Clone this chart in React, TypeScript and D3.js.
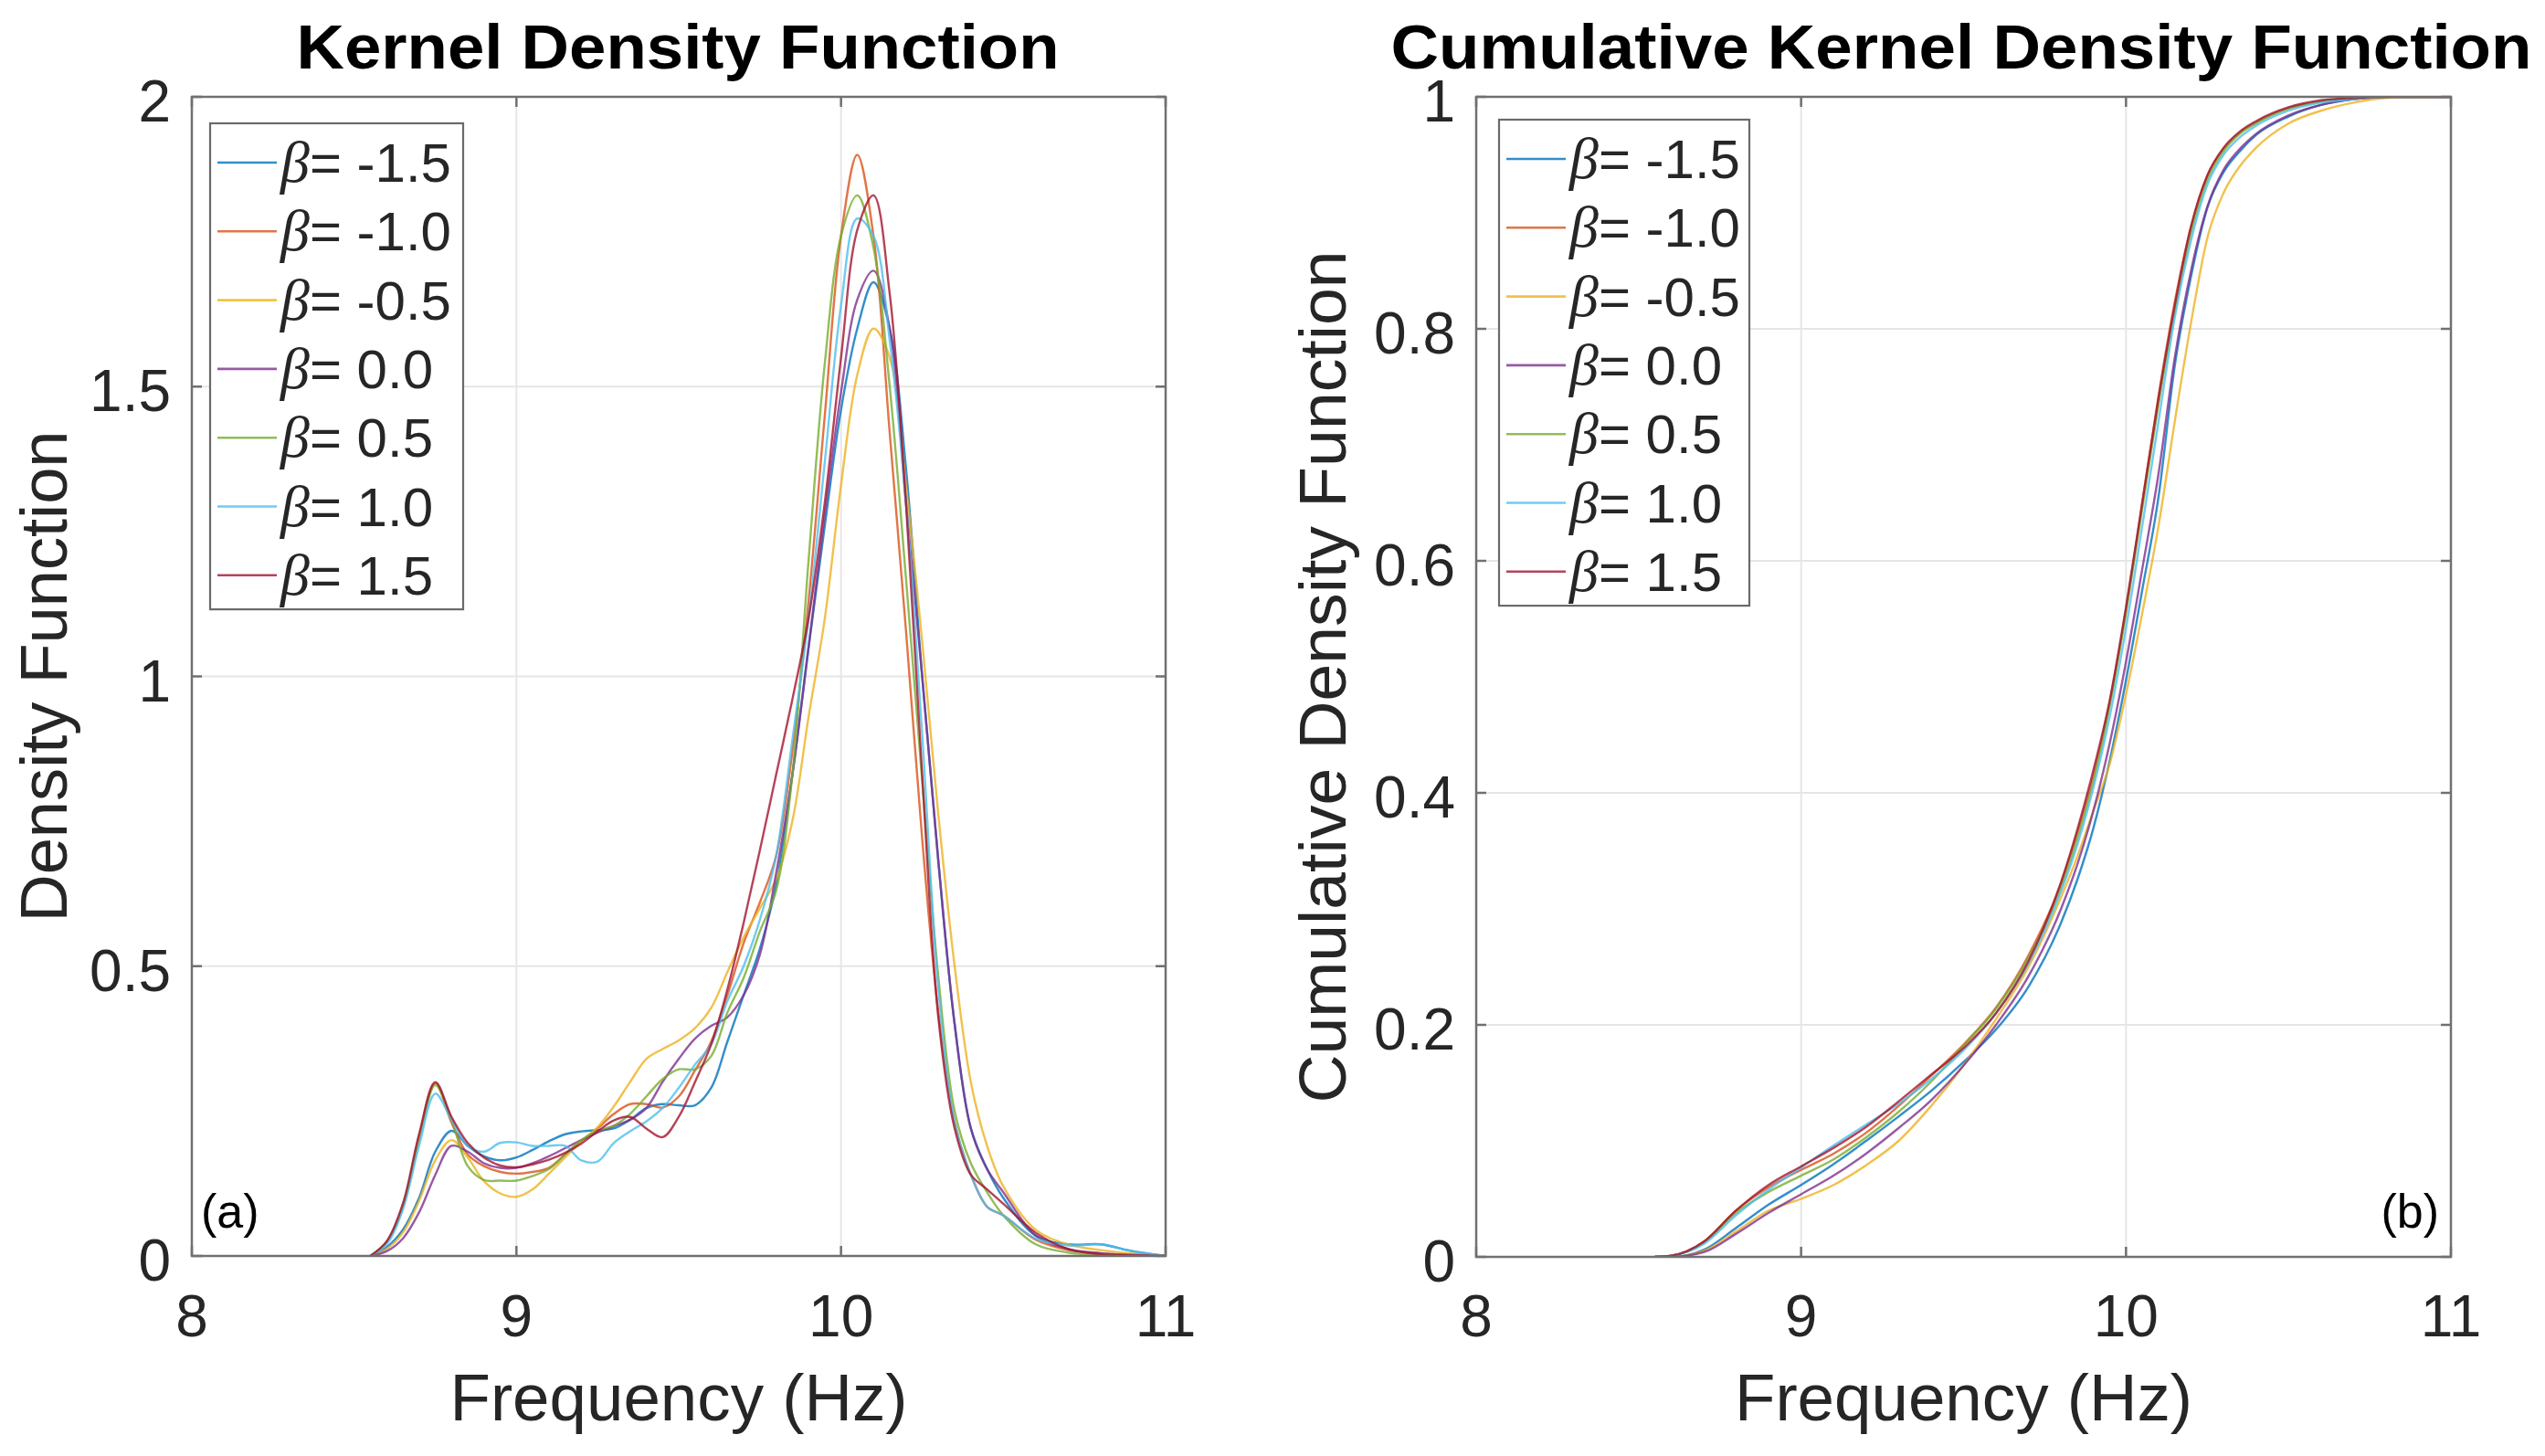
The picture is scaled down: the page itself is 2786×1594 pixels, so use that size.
import { useEffect } from "react";
import { curveCatmullRom, curveMonotoneX, line, scaleLinear } from "d3";

const betaLabels = ["-1.5", "-1.0", "-0.5", "0.0", "0.5", "1.0", "1.5"];
const seriesColors = ["#0072BD", "#D95319", "#EDB120", "#7E2F8E", "#77AC30", "#4DBEEE", "#A2142F"];

const freqTicks = [8, 9, 10, 11];
const freqTickLabels = ["8", "9", "10", "11"];
const densityTicks = [0, 0.5, 1, 1.5, 2];
const densityTickLabels = ["0", "0.5", "1", "1.5", "2"];
const cumulativeTicks = [0, 0.2, 0.4, 0.6, 0.8, 1];
const cumulativeTickLabels = ["0", "0.2", "0.4", "0.6", "0.8", "1"];

// kernel density, sampled on a shared frequency grid (Hz)
const kdeFrequency = [
  8.55, 8.6, 8.65, 8.7, 8.75, 8.8, 8.85, 8.9, 8.95, 9.0, 9.05, 9.1, 9.15, 9.2, 9.25, 9.3, 9.35, 9.4,
  9.45, 9.5, 9.55, 9.6, 9.65, 9.7, 9.75, 9.8, 9.85, 9.9, 9.95, 10.0, 10.05, 10.1, 10.15, 10.2, 10.25,
  10.3, 10.35, 10.4, 10.45, 10.5, 10.6, 10.7, 10.8, 10.9, 11.0,
];
const kdeBetaM15 = [
  0, 0.015, 0.045, 0.1, 0.18, 0.216, 0.19, 0.172, 0.165, 0.17, 0.183, 0.198, 0.21, 0.215, 0.217, 0.22,
  0.235, 0.255, 0.262, 0.26, 0.26, 0.29, 0.37, 0.45, 0.53, 0.64, 0.83, 1.05, 1.26, 1.46, 1.6, 1.68, 1.6,
  1.36, 1.0, 0.68, 0.4, 0.22, 0.15, 0.1, 0.035, 0.02, 0.02, 0.008, 0,
];
const kdeBetaM10 = [
  0, 0.024, 0.085, 0.205, 0.298, 0.23, 0.175, 0.155, 0.145, 0.142, 0.145, 0.152, 0.175, 0.198, 0.22,
  0.245, 0.262, 0.262, 0.256, 0.275, 0.32, 0.37, 0.45, 0.54, 0.61, 0.69, 0.87, 1.13, 1.45, 1.76, 1.9,
  1.76, 1.42, 1.08, 0.72, 0.42, 0.23, 0.14, 0.085, 0.07, 0.028, 0.01, 0.004, 0.001, 0,
];
const kdeBetaM05 = [
  0, 0.012, 0.04, 0.095, 0.165, 0.2, 0.17, 0.129, 0.108, 0.102, 0.115, 0.142, 0.17, 0.198, 0.222, 0.258,
  0.3, 0.34, 0.357, 0.372, 0.393, 0.428, 0.49, 0.55, 0.6, 0.65, 0.75, 0.93, 1.1, 1.33, 1.52, 1.6, 1.55,
  1.33, 1.06, 0.76, 0.5, 0.3, 0.19, 0.12, 0.045, 0.02, 0.01, 0.004, 0,
];
const kdeBeta00 = [
  0, 0.008, 0.03, 0.075, 0.14, 0.19, 0.18, 0.16, 0.152, 0.152, 0.16, 0.172, 0.186, 0.2, 0.213, 0.224,
  0.235, 0.255, 0.3, 0.34, 0.375, 0.397, 0.412, 0.45, 0.52, 0.66, 0.83, 1.05, 1.28, 1.49, 1.65, 1.7, 1.6,
  1.3, 1.0, 0.68, 0.4, 0.22, 0.15, 0.11, 0.035, 0.012, 0.005, 0.002, 0,
];
const kdeBeta05 = [
  0, 0.024, 0.085, 0.2, 0.295, 0.235, 0.155, 0.131, 0.13, 0.13, 0.138, 0.15, 0.175, 0.2, 0.216, 0.225,
  0.245, 0.275, 0.305, 0.322, 0.322, 0.345, 0.42, 0.48, 0.56, 0.63, 0.83, 1.2, 1.54, 1.76, 1.83, 1.74,
  1.5, 1.17, 0.82, 0.48, 0.25, 0.16, 0.11, 0.07, 0.02, 0.006, 0.002, 0, 0,
];
const kdeBeta10 = [
  0, 0.02, 0.08, 0.19, 0.28, 0.235, 0.19, 0.18, 0.195, 0.196, 0.19, 0.19, 0.19, 0.165, 0.163, 0.195,
  0.215, 0.232, 0.255, 0.29, 0.33, 0.365, 0.44, 0.5, 0.58, 0.69, 0.89, 1.1, 1.37, 1.64, 1.79, 1.76, 1.58,
  1.3, 0.9, 0.46, 0.23, 0.14, 0.085, 0.07, 0.03, 0.018, 0.02, 0.008, 0,
];
const kdeBeta15 = [
  0, 0.025, 0.09, 0.21, 0.3, 0.24, 0.195, 0.17, 0.156, 0.153, 0.158, 0.166, 0.178, 0.194, 0.215, 0.234,
  0.24, 0.22, 0.205, 0.24, 0.3, 0.365, 0.46, 0.575, 0.7, 0.83, 0.96, 1.1, 1.3, 1.55, 1.77, 1.83, 1.66,
  1.3, 0.83, 0.41, 0.22, 0.14, 0.115, 0.09, 0.04, 0.012, 0.003, 0.001, 0,
];

// cumulative kernel density
const cdfFrequency = [
  8.55, 8.6, 8.7, 8.8, 8.9, 9.0, 9.1, 9.2, 9.3, 9.4, 9.5, 9.6, 9.7, 9.8, 9.85, 9.9, 9.95, 10.0, 10.05,
  10.1, 10.15, 10.2, 10.25, 10.3, 10.35, 10.4, 10.5, 10.6, 10.7, 10.8, 10.9, 11.0,
];
const cdfBetaM15 = [
  0, 0, 0.006, 0.025, 0.045, 0.062, 0.08, 0.1, 0.121, 0.143, 0.168, 0.196, 0.233, 0.288, 0.325, 0.37,
  0.428, 0.497, 0.575, 0.655, 0.768, 0.845, 0.904, 0.935, 0.953, 0.967, 0.983, 0.993, 0.998, 1, 1, 1,
];
const cdfBetaM10 = [
  0, 0.001, 0.013, 0.04, 0.06, 0.075, 0.089, 0.107, 0.13, 0.156, 0.183, 0.215, 0.26, 0.322, 0.365, 0.415,
  0.478, 0.558, 0.65, 0.742, 0.823, 0.888, 0.932, 0.955, 0.969, 0.978, 0.99, 0.996, 0.999, 1, 1, 1,
];
const cdfBetaM05 = [
  0, 0, 0.005, 0.022, 0.04, 0.05, 0.062, 0.079, 0.1, 0.13, 0.165, 0.205, 0.25, 0.31, 0.345, 0.385, 0.425,
  0.485, 0.555, 0.63, 0.72, 0.805, 0.878, 0.917, 0.94, 0.956, 0.977, 0.988, 0.995, 0.999, 1, 1,
];
const cdfBeta00 = [
  0, 0, 0.004, 0.02, 0.038, 0.054, 0.07, 0.089, 0.111, 0.135, 0.165, 0.2, 0.242, 0.3, 0.338, 0.385, 0.443,
  0.513, 0.593, 0.675, 0.775, 0.85, 0.905, 0.937, 0.955, 0.968, 0.984, 0.993, 0.998, 1, 1, 1,
];
const cdfBeta05 = [
  0, 0.001, 0.012, 0.038, 0.056, 0.07, 0.084, 0.103, 0.125, 0.151, 0.182, 0.214, 0.258, 0.318, 0.36, 0.41,
  0.475, 0.555, 0.645, 0.735, 0.815, 0.882, 0.928, 0.953, 0.968, 0.977, 0.99, 0.996, 0.999, 1, 1, 1,
];
const cdfBeta10 = [
  0, 0.001, 0.011, 0.036, 0.058, 0.077, 0.096, 0.114, 0.132, 0.153, 0.178, 0.21, 0.253, 0.315, 0.355,
  0.405, 0.466, 0.542, 0.63, 0.72, 0.81, 0.876, 0.924, 0.95, 0.965, 0.975, 0.988, 0.995, 0.998, 1, 1, 1,
];
const cdfBeta15 = [
  0, 0.001, 0.013, 0.04, 0.062, 0.078, 0.094, 0.112, 0.134, 0.157, 0.18, 0.21, 0.255, 0.323, 0.368, 0.42,
  0.48, 0.56, 0.65, 0.74, 0.82, 0.888, 0.932, 0.956, 0.97, 0.979, 0.991, 0.997, 0.999, 1, 1, 1,
];

const kdeSeries = [kdeBetaM15, kdeBetaM10, kdeBetaM05, kdeBeta00, kdeBeta05, kdeBeta10, kdeBeta15];
const cdfSeries = [cdfBetaM15, cdfBetaM10, cdfBetaM05, cdfBeta00, cdfBeta05, cdfBeta10, cdfBeta15];

const sans = "'Liberation Sans', Arial, Helvetica, sans-serif";
const axisGray = "#707070";

type PanelProps = {
  id: string;
  left: number;
  right: number;
  top: number;
  bottom: number;
  yMax: number;
  yTicks: number[];
  yTickLabels: string[];
  frequency: number[];
  series: number[][];
  smooth: "catmull" | "monotone";
  title: string;
  titleX: number;
  titleLength: number;
  yLabel: string;
  yLabelX: number;
  yLabelLength: number;
  legendX: number;
  legendY: number;
  legendWidth: number;
  tag: string;
  tagX: number;
  tagAnchor: "start" | "end";
};

function Panel(p: PanelProps) {
  const x = scaleLinear().domain([8, 11]).range([p.left, p.right]);
  const y = scaleLinear().domain([0, p.yMax]).range([p.bottom, p.top]);
  const curve = p.smooth === "catmull" ? curveCatmullRom.alpha(0.5) : curveMonotoneX;
  const path = line<number>()
    .x((_, i) => x(p.frequency[i]))
    .y((v) => y(v))
    .curve(curve);
  const tickLen = 11;
  const rowStep = 75.3;
  const legendHeight = rowStep * betaLabels.length + 5;

  return (
    <g>
      <defs>
        <clipPath id={p.id}>
          <rect x={p.left} y={p.top} width={p.right - p.left} height={p.bottom - p.top} />
        </clipPath>
      </defs>

      {freqTicks.slice(1, -1).map((t) => (
        <line key={`gx${t}`} x1={x(t)} x2={x(t)} y1={p.top} y2={p.bottom} stroke="#e6e6e6" strokeWidth={2} />
      ))}
      {p.yTicks.slice(1, -1).map((t) => (
        <line key={`gy${t}`} x1={p.left} x2={p.right} y1={y(t)} y2={y(t)} stroke="#e6e6e6" strokeWidth={2} />
      ))}

      <g clipPath={`url(#${p.id})`}>
        {p.series.map((values, i) => (
          <path
            key={betaLabels[i]}
            d={path(values) ?? ""}
            fill="none"
            stroke={seriesColors[i]}
            strokeOpacity={0.8}
            strokeWidth={2.4}
            strokeLinejoin="round"
          />
        ))}
      </g>

      <rect
        x={p.left}
        y={p.top}
        width={p.right - p.left}
        height={p.bottom - p.top}
        fill="none"
        stroke={axisGray}
        strokeWidth={2.5}
      />
      {freqTicks.map((t) => (
        <g key={`tx${t}`}>
          <line x1={x(t)} x2={x(t)} y1={p.bottom} y2={p.bottom - tickLen} stroke={axisGray} strokeWidth={2.5} />
          <line x1={x(t)} x2={x(t)} y1={p.top} y2={p.top + tickLen} stroke={axisGray} strokeWidth={2.5} />
        </g>
      ))}
      {p.yTicks.map((t) => (
        <g key={`ty${t}`}>
          <line x1={p.left} x2={p.left + tickLen} y1={y(t)} y2={y(t)} stroke={axisGray} strokeWidth={2.5} />
          <line x1={p.right} x2={p.right - tickLen} y1={y(t)} y2={y(t)} stroke={axisGray} strokeWidth={2.5} />
        </g>
      ))}

      {freqTicks.map((t, i) => (
        <text key={`lx${t}`} x={x(t)} y={1463} textAnchor="middle" fontFamily={sans} fontSize={64} fill="#262626">
          {freqTickLabels[i]}
        </text>
      ))}
      {p.yTicks.map((t, i) => (
        <text
          key={`ly${t}`}
          x={p.left - 23}
          y={y(t) + 27}
          textAnchor="end"
          fontFamily={sans}
          fontSize={64}
          fill="#262626"
        >
          {p.yTickLabels[i]}
        </text>
      ))}

      <text
        x={p.titleX}
        y={75}
        textAnchor="middle"
        fontFamily={sans}
        fontWeight="bold"
        fontSize={68}
        textLength={p.titleLength}
        lengthAdjust="spacingAndGlyphs"
        fill="#000"
      >
        {p.title}
      </text>
      <text
        x={(p.left + p.right) / 2}
        y={1555}
        textAnchor="middle"
        fontFamily={sans}
        fontSize={73}
        textLength={501}
        lengthAdjust="spacingAndGlyphs"
        fill="#262626"
      >
        Frequency (Hz)
      </text>
      <text
        transform={`translate(${p.yLabelX}, ${(p.top + p.bottom) / 2}) rotate(-90)`}
        textAnchor="middle"
        fontFamily={sans}
        fontSize={73}
        textLength={p.yLabelLength}
        lengthAdjust="spacingAndGlyphs"
        fill="#262626"
      >
        {p.yLabel}
      </text>

      <rect
        x={p.legendX}
        y={p.legendY}
        width={p.legendWidth}
        height={legendHeight}
        fill="#fff"
        stroke="#6a6a6a"
        strokeWidth={2.2}
      />
      {betaLabels.map((label, i) => {
        const rowY = p.legendY + 43 + i * rowStep;
        return (
          <g key={label}>
            <line
              x1={p.legendX + 8}
              x2={p.legendX + 73}
              y1={rowY}
              y2={rowY}
              stroke={seriesColors[i]}
              strokeOpacity={0.8}
              strokeWidth={2.6}
            />
            <text x={p.legendX + 77} y={rowY + 21} fill="#262626">
              <tspan fontFamily="'Liberation Serif', 'DejaVu Serif', serif" fontStyle="italic" fontSize={64}>
                β
              </tspan>
              <tspan fontFamily={sans} fontSize={60}>
                = {label}
              </tspan>
            </text>
          </g>
        );
      })}

      <text x={p.tagX} y={1344} textAnchor={p.tagAnchor} fontFamily={sans} fontSize={52} fill="#000">
        {p.tag}
      </text>
    </g>
  );
}

export default function App() {
  useEffect(() => {
    document.body.style.margin = "0";
  }, []);

  return (
    <svg width={2786} height={1594} viewBox="0 0 2786 1594" style={{ display: "block", background: "#fff" }}>
      <rect width={2786} height={1594} fill="#fff" />
      <Panel
        id="clipKde"
        left={210}
        right={1276}
        top={106}
        bottom={1375}
        yMax={2}
        yTicks={densityTicks}
        yTickLabels={densityTickLabels}
        frequency={kdeFrequency}
        series={kdeSeries}
        smooth="catmull"
        title="Kernel Density Function"
        titleX={742}
        titleLength={835}
        yLabel="Density Function"
        yLabelX={73}
        yLabelLength={538}
        legendX={230}
        legendY={135}
        legendWidth={277}
        tag="(a)"
        tagX={220}
        tagAnchor="start"
      />
      <Panel
        id="clipCdf"
        left={1616}
        right={2683}
        top={106}
        bottom={1376}
        yMax={1}
        yTicks={cumulativeTicks}
        yTickLabels={cumulativeTickLabels}
        frequency={cdfFrequency}
        series={cdfSeries}
        smooth="monotone"
        title="Cumulative Kernel Density Function"
        titleX={2147}
        titleLength={1249}
        yLabel="Cumulative Density Function"
        yLabelX={1473}
        yLabelLength={933}
        legendX={1641}
        legendY={131}
        legendWidth={274}
        tag="(b)"
        tagX={2670}
        tagAnchor="end"
      />
    </svg>
  );
}
